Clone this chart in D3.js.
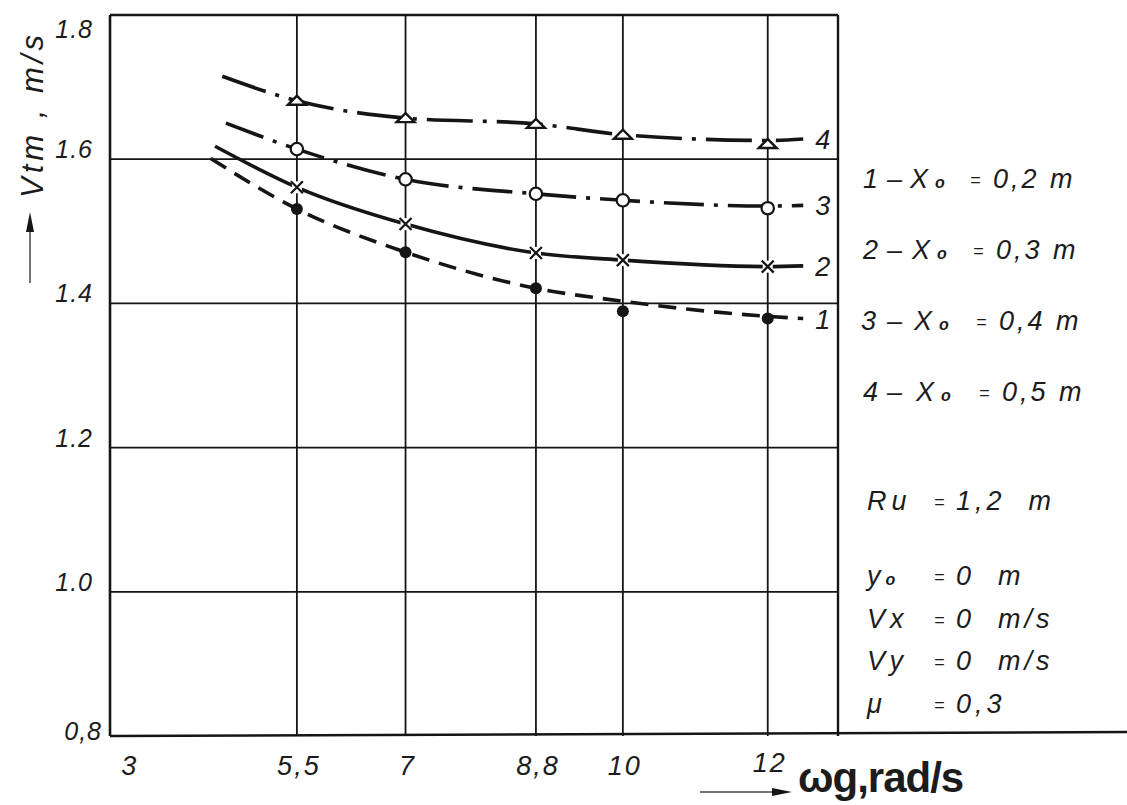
<!DOCTYPE html>
<html>
<head>
<meta charset="utf-8">
<script src="https://cdn.jsdelivr.net/npm/d3@7"></script>
<style>
  body { margin: 0; background: #fff; }
  text { font-family: "Liberation Sans", Arial, sans-serif; fill: #1c1c1c; }
</style>
</head>
<body>
<svg id="chart" width="1127" height="805"></svg>
<script>
// axis ticks
const omegaTicks = [3, 5.5, 7, 8.8, 10, 12];
const omegaTickLabels = ["3", "5,5", "7", "8,8", "10", "12"];
const vTicks = [0.8, 1.0, 1.2, 1.4, 1.6, 1.8];
const vTickLabels = ["0,8", "1.0", "1.2", "1.4", "1.6", "1.8"];

// measured points (markers) at each omega
const omegaPoints = [5.5, 7, 8.8, 10, 12];
const marks1 = [1.531, 1.471, 1.421, 1.389, 1.379];
const marks2 = [1.561, 1.510, 1.470, 1.460, 1.451];
const marks3 = [1.614, 1.572, 1.552, 1.543, 1.532];
const marks4 = [1.681, 1.657, 1.649, 1.634, 1.621];

// hand-drawn fitted curves: value at each omega point, plus start / end
const fit1 = [1.531, 1.471, 1.421, 1.403, 1.382];
const fit2 = [1.561, 1.510, 1.470, 1.460, 1.451];
const fit3 = [1.614, 1.572, 1.552, 1.543, 1.535];
const fit4 = [1.681, 1.657, 1.649, 1.634, 1.626];
const fitStartOmega = [4.31, 4.37, 4.52, 4.47];
const fitStartV = [1.601, 1.618, 1.650, 1.715];
const fitEndOmega = 12.49;
const fitEndV = [1.379, 1.452, 1.536, 1.628];

const curveNames = ["1", "2", "3", "4"];
const legendX0 = ["0,2 m", "0,3 m", "0,4 m", "0,5 m"];
const paramNames = ["Ru", "y", "Vx", "Vy", "\u03bc"];
const paramSubs = ["", "o", "", "", ""];
const paramValues = ["1,2  m", "0  m", "0  m/s", "0  m/s", "0,3"];

const svg = d3.select("#chart");
svg.append("rect").attr("width", 1127).attr("height", 805).attr("fill", "#fff");

const xScale = d3.scaleLinear().domain([2.92, 12.97]).range([110, 838]);
const yScale = d3.scaleLinear().domain([0.8, 1.8]).range([736, 15]);

const ink = "#151515";

// grid
const g = svg.append("g");
g.selectAll(".hgrid")
    .data(vTicks.filter(v => v > 0.8))
    .join("line")
    .attr("x1", xScale(2.92)).attr("x2", xScale(12.97))
    .attr("y1", d => yScale(d)).attr("y2", d => yScale(d))
    .attr("stroke", ink).attr("stroke-width", d => d === 1.8 ? 2.5 : 1.8);

g.selectAll(".vgrid")
    .data(omegaPoints)
    .join("line")
    .attr("x1", d => xScale(d)).attr("x2", d => xScale(d))
    .attr("y1", yScale(1.8)).attr("y2", yScale(0.8))
    .attr("stroke", ink).attr("stroke-width", 1.8);

// frame
g.append("line")
    .attr("x1", xScale(2.92)).attr("x2", xScale(2.92))
    .attr("y1", yScale(1.8)).attr("y2", yScale(0.8))
    .attr("stroke", ink).attr("stroke-width", 2.6);
g.append("line")
    .attr("x1", xScale(12.97)).attr("x2", xScale(12.97))
    .attr("y1", yScale(1.8)).attr("y2", yScale(0.8))
    .attr("stroke", ink).attr("stroke-width", 2.4);
g.append("line")
    .attr("x1", xScale(2.92)).attr("x2", 1127)
    .attr("y1", yScale(0.8)).attr("y2", yScale(0.8) - 4)
    .attr("stroke", ink).attr("stroke-width", 2.6);

// y tick labels
g.selectAll(".ylab")
    .data(vTicks)
    .join("text")
    .attr("x", d => d === 0.8 ? 102 : 93)
    .attr("y", d => yScale(d) + (d === 1.8 ? 23 : d === 0.8 ? 4 : -1))
    .attr("text-anchor", "end")
    .style("font-style", "italic")
    .style("font-size", "25px")
    .style("letter-spacing", "1px")
    .text((d, i) => vTickLabels[i]);

// x tick labels
g.selectAll(".xlab")
    .data(omegaTicks)
    .join("text")
    .attr("x", d => xScale(d) + (d === 3 ? 14 : 2))
    .attr("y", d => d === 12 ? 772 : 775)
    .attr("text-anchor", "middle")
    .style("font-style", "italic")
    .style("font-size", "27px")
    .style("letter-spacing", "2px")
    .text((d, i) => omegaTickLabels[i]);

// curves
const series = [
    { marks: marks1, fit: fit1, dash: "18,10", shape: "dot" },
    { marks: marks2, fit: fit2, dash: null, shape: "cross" },
    { marks: marks3, fit: fit3, dash: "40,10,4,10", shape: "circle" },
    { marks: marks4, fit: fit4, dash: "46,10,4,10", shape: "triangle" }
];

const line = d3.line()
    .x(d => xScale(d[0]))
    .y(d => yScale(d[1]))
    .curve(d3.curveMonotoneX);

series.forEach((s, i) => {
    const pts = [[fitStartOmega[i], fitStartV[i]]]
        .concat(omegaPoints.map((w, j) => [w, s.fit[j]]))
        .concat([[fitEndOmega, fitEndV[i]]]);
    g.append("path")
        .attr("d", line(pts))
        .attr("fill", "none")
        .attr("stroke", ink)
        .attr("stroke-width", 3.6)
        .attr("stroke-dasharray", s.dash);

    const m = g.selectAll(".m" + i)
        .data(omegaPoints.map((w, j) => [w, s.marks[j]]))
        .join("g")
        .attr("transform", d => `translate(${xScale(d[0])},${yScale(d[1])})`);

    if (s.shape === "dot") {
        m.append("circle").attr("r", 6).attr("fill", ink);
    } else if (s.shape === "circle") {
        m.append("circle").attr("r", 6.2).attr("fill", "#fff")
            .attr("stroke", ink).attr("stroke-width", 2.2);
    } else if (s.shape === "cross") {
        m.append("rect").attr("x", -5).attr("y", -6).attr("width", 10).attr("height", 12).attr("fill", "#fff");
        m.append("path").attr("d", "M-6,-6L6,6M-6,6L6,-6")
            .attr("stroke", ink).attr("stroke-width", 2.2);
    } else {
        m.append("path").attr("d", "M-9,4L9,4L0,-5Z")
            .attr("fill", "#fff").attr("stroke", ink).attr("stroke-width", 2.4);
    }

    g.append("text")
        .attr("x", xScale(fitEndOmega) + 12)
        .attr("y", yScale(fitEndV[i]) + 10)
        .style("font-style", "italic")
        .style("font-size", "27px")
        .text(curveNames[i]);
});

// legend: curves
const leg = svg.append("g").style("font-style", "italic").style("font-size", "27px");
legendX0.forEach((v, i) => {
    const y = 188 + i * 71;
    leg.append("text").attr("x", 863 + (i === 2 ? -2 : 0)).attr("y", y).text(curveNames[i]);
    leg.append("text").attr("x", 887).attr("y", y).text("\u2013");
    const t = leg.append("text").attr("x", 910 + i * 2).attr("y", y);
    t.append("tspan").text("X");
    t.append("tspan").attr("dx", 7).style("font-size", "16px").style("font-weight", "bold").text("o");
    leg.append("text").attr("x", 970 + i * 3).attr("y", y - 2).style("font-size", "18px").text("=");
    leg.append("text").attr("x", 993 + i * 3).attr("y", y)
        .style("letter-spacing", "3px").text(v);
});

// legend: parameters
const paramY = [510, 585, 628, 670, 713];
paramNames.forEach((n, i) => {
    const t = leg.append("text").attr("x", 867).attr("y", paramY[i])
        .style("letter-spacing", "5px");
    t.append("tspan").text(n);
    if (paramSubs[i]) t.append("tspan").style("font-size", "16px").style("font-weight", "bold").text(paramSubs[i]);
    leg.append("text").attr("x", 934).attr("y", paramY[i] - 2).style("font-size", "18px").text("=");
    leg.append("text").attr("x", 956).attr("y", paramY[i])
        .style("letter-spacing", "4px")
        .style("white-space", "pre").text(paramValues[i]);
});

// axis arrows
svg.append("line")
    .attr("x1", 30).attr("x2", 30).attr("y1", 283).attr("y2", 228)
    .attr("stroke", "#444").attr("stroke-width", 1.5);
svg.append("path").attr("d", "M30,212L26,232L34,232Z").attr("fill", ink);

svg.append("text")
    .attr("transform", "translate(43,198) rotate(-90)")
    .style("font-style", "italic")
    .style("font-size", "31px")
    .style("letter-spacing", "4px")
    .style("white-space", "pre")
    .text("Vtm , m/s");

svg.append("line")
    .attr("x1", 700).attr("x2", 775).attr("y1", 792).attr("y2", 792)
    .attr("stroke", "#444").attr("stroke-width", 1.5);
svg.append("path").attr("d", "M792,792L772,788L772,796Z").attr("fill", ink);

svg.append("text")
    .attr("x", 798).attr("y", 792)
    .style("font-weight", "bold")
    .style("font-size", "42px")
    .style("letter-spacing", "-1px")
    .text("\u03c9g,rad/s");
</script>
</body>
</html>
